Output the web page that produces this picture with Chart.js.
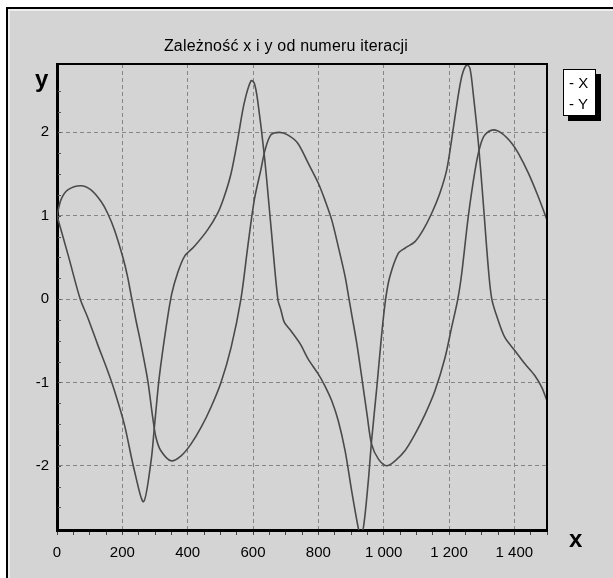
<!DOCTYPE html>
<html>
<head>
<meta charset="utf-8">
<script src="https://cdn.jsdelivr.net/npm/chart.js@4.4.0/dist/chart.umd.min.js"></script>
<style>
    html, body { margin: 0; padding: 0; background: #fff; overflow: hidden; }
    body { width: 613px; height: 578px; position: relative; font-family: 'Liberation Sans', Arial, sans-serif; }
    #panel {
        position: absolute; left: 6px; top: 7px; right: 0; bottom: 0;
        background: #d4d4d4;
        border-left: 2px solid #000; border-top: 2px solid #000;
        box-shadow: inset 2px 2px 0 #ededed;
    }
    #chart { position: absolute; left: 0; top: 0; }
    .txt { position: absolute; color: #000; white-space: nowrap; }
    #title { left: 0; width: 572px; top: 37px; text-align: center; font-size: 16px; letter-spacing: 0.2px; }
    #ylab { left: 35px; top: 65px; font-size: 24px; font-weight: bold; }
    #xlab { left: 569px; top: 525px; font-size: 24px; font-weight: bold; }
    #legend {
        position: absolute; left: 563px; top: 69px; width: 26px; height: 43px;
        background: #fff; border: 1px solid #000; box-shadow: 5px 5px 0 #000;
        font-size: 15px; line-height: 21px; padding: 2px 0 0 5px; box-sizing: content-box;
    }
</style>
</head>
<body>
<div id="panel"></div>
<canvas id="chart" width="613" height="578"></canvas>
<div class="txt" id="title">Zależność x i y od numeru iteracji</div>
<div class="txt" id="ylab">y</div>
<div class="txt" id="xlab">x</div>
<div id="legend"></div>
<script>
// series values
const seriesNames = ['X', 'Y'];

const xIter = [0, 12, 33, 73, 104, 135, 155, 176, 201, 216, 229, 242, 257, 278, 293, 303, 318, 349, 380, 410,
    441, 471, 502, 533, 563, 584, 604, 624, 637, 655, 681, 706, 737, 769, 800, 820, 841, 861, 882, 894,
    902, 918, 933, 949, 963, 984, 1009, 1035, 1065, 1096, 1127, 1157, 1188, 1208, 1227, 1239, 1259, 1280,
    1295, 1310, 1336, 1361, 1392, 1412, 1443, 1473, 1500];
const xVal = [1.0, 1.19, 1.31, 1.36, 1.31, 1.17, 1.03, 0.83, 0.51, 0.27, 0, -0.26, -0.54, -0.98, -1.42, -1.66, -1.82, -1.94, -1.88, -1.74,
    -1.54, -1.30, -1.00, -0.58, 0, 0.63, 1.19, 1.55, 1.79, 1.97, 2.0, 1.97, 1.87, 1.63, 1.39, 1.19, 0.95, 0.63, 0.27, 0,
    -0.18, -0.54, -0.94, -1.38, -1.74, -1.92, -2.0, -1.94, -1.82, -1.62, -1.38, -1.10, -0.70, -0.34, 0, 0.31, 0.99, 1.55,
    1.83, 1.97, 2.03, 1.99, 1.87, 1.75, 1.51, 1.23, 0.95];

const yIter = [0, 36, 71, 94, 124, 155, 176, 206, 237, 265, 288, 298, 313, 334, 351, 369, 390, 420, 461, 492,
    512, 533, 553, 573, 594, 604, 614, 635, 655, 676, 686, 696, 716, 745, 769, 800, 820, 841, 861, 882,
    902, 922, 928, 938, 953, 963, 979, 994, 1006, 1019, 1045, 1065, 1096, 1121, 1147, 1172, 1193, 1208,
    1223, 1239, 1254, 1264, 1274, 1290, 1305, 1320, 1331, 1351, 1371, 1402, 1433, 1463, 1484, 1500];
const yVal = [1.0, 0.5, 0.0, -0.22, -0.54, -0.86, -1.10, -1.50, -2.06, -2.43, -1.94, -1.54, -0.94, -0.34, 0.06, 0.31, 0.51, 0.63, 0.83, 1.03,
    1.23, 1.51, 1.91, 2.35, 2.62, 2.59, 2.39, 1.71, 0.87, 0, -0.14, -0.28, -0.38, -0.54, -0.72, -0.90, -1.04, -1.22, -1.46, -1.82,
    -2.30, -2.74, -2.82, -2.74, -2.18, -1.70, -1.06, -0.42, 0, 0.27, 0.55, 0.61, 0.69, 0.83, 1.03, 1.27, 1.55, 1.91,
    2.31, 2.67, 2.81, 2.77, 2.47, 1.87, 1.15, 0.39, 0, -0.26, -0.46, -0.62, -0.78, -0.92, -1.06, -1.22];

// axis ranges
const xMin = 0, xMax = 1500, xStep = 50, xLabelStep = 200;
const yMin = -2.77, yMax = 2.82, yStep = 0.25;

const lineColor = '#4a4a4a';
const gridColor = '#858585';

function isMultiple(v, step) {
    const r = v / step;
    return Math.abs(r - Math.round(r)) < 1e-6;
}

function toPoints(xs, ys) {
    return xs.map((x, i) => ({ x: x, y: ys[i] }));
}

function groupThousands(v) {
    return String(v).replace(/\B(?=(\d{3})+(?!\d))/g, ' ');
}

// top and right edges of the plot frame, plus small inner ticks on the y axis
const framePlugin = {
    id: 'frame',
    afterDatasetsDraw(chart) {
        const { ctx, chartArea: a, scales } = chart;
        ctx.save();
        ctx.strokeStyle = '#000';
        ctx.lineWidth = 2;
        ctx.beginPath();
        ctx.moveTo(a.left, a.top);
        ctx.lineTo(a.right, a.top);
        ctx.lineTo(a.right, a.bottom);
        ctx.stroke();

        ctx.strokeStyle = '#555';
        ctx.lineWidth = 1;
        scales.y.ticks.forEach(t => {
            if (!isMultiple(t.value, yStep)) return;
            const py = Math.round(scales.y.getPixelForValue(t.value)) + 0.5;
            ctx.beginPath();
            ctx.moveTo(a.left + 1, py);
            ctx.lineTo(a.left + 4, py);
            ctx.stroke();
        });
        ctx.restore();
    }
};

const legendEl = document.getElementById('legend');
legendEl.innerHTML = seriesNames.map(n => '<div>- ' + n + '</div>').join('');

const tickFont = { family: "'Liberation Sans', Arial, sans-serif", size: 15 };

new Chart(document.getElementById('chart'), {
    type: 'line',
    data: {
        datasets: [{
            label: seriesNames[0],
            data: toPoints(xIter, xVal),
            borderColor: lineColor,
            borderWidth: 1.6,
            pointRadius: 0,
            tension: 0.3,
            fill: false
        }, {
            label: seriesNames[1],
            data: toPoints(yIter, yVal),
            borderColor: lineColor,
            borderWidth: 1.6,
            pointRadius: 0,
            tension: 0.3,
            fill: false
        }]
    },
    options: {
        responsive: false,
        animation: false,
        devicePixelRatio: 1,
        layout: { padding: { left: 0, top: 64, right: 66, bottom: 18 } },
        plugins: {
            legend: { display: false },
            title: { display: false },
            tooltip: { enabled: false }
        },
        scales: {
            x: {
                type: 'linear',
                min: xMin,
                max: xMax,
                afterFit: (scale) => { scale.height = 30; },
                border: { display: true, color: '#000', width: 3, dash: [4, 3] },
                grid: {
                    color: (c) => (c.tick && c.tick.value > xMin && c.tick.value < xMax && isMultiple(c.tick.value, xLabelStep)) ? gridColor : 'transparent',
                    lineWidth: 1,
                    drawTicks: true,
                    tickLength: 5,
                    tickBorderDash: [],
                    tickColor: (c) => (c.tick && isMultiple(c.tick.value, xStep)) ? '#444' : 'transparent'
                },
                ticks: {
                    stepSize: xStep,
                    autoSkip: false,
                    maxRotation: 0,
                    padding: 9,
                    color: '#000',
                    font: tickFont,
                    callback: (v) => isMultiple(v, xLabelStep) && v < xMax ? groupThousands(v) : ''
                }
            },
            y: {
                type: 'linear',
                min: yMin,
                max: yMax,
                afterFit: (scale) => { scale.width = 57; },
                border: { display: true, color: '#000', width: 3, dash: [4, 3] },
                grid: {
                    color: (c) => (c.tick && isMultiple(c.tick.value, 1)) ? gridColor : 'transparent',
                    lineWidth: 1,
                    drawTicks: false
                },
                ticks: {
                    stepSize: yStep,
                    autoSkip: false,
                    padding: 8,
                    color: '#000',
                    font: tickFont,
                    callback: (v) => isMultiple(v, 1) ? String(Math.round(v)) : ''
                }
            }
        }
    },
    plugins: [framePlugin]
});
</script>
</body>
</html>
